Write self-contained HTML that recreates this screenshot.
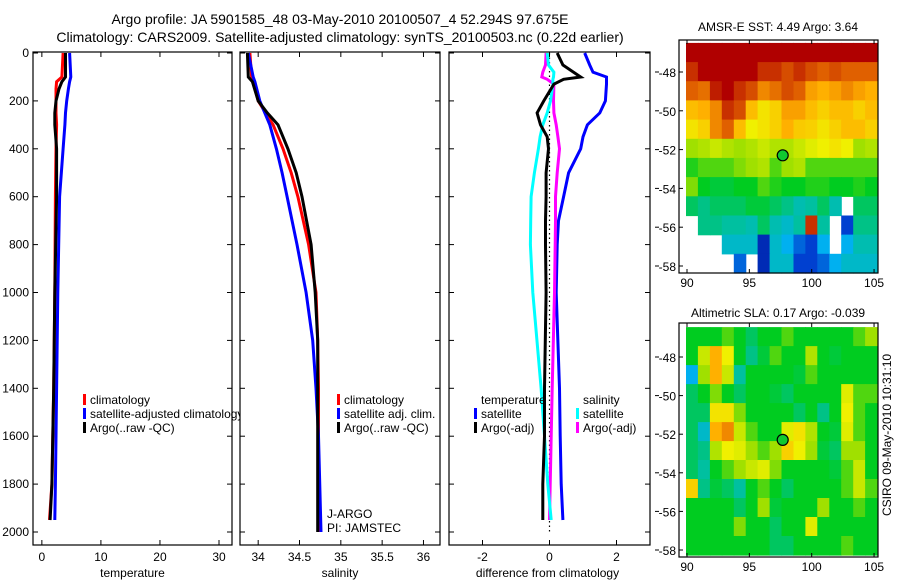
<!DOCTYPE html>
<html><head><meta charset="utf-8"><style>
body{margin:0;background:#fff;}
svg{display:block;font-family:"Liberation Sans",sans-serif;}
</style></head><body>
<svg id="fig" width="900" height="580" viewBox="0 0 900 580">
<rect width="900" height="580" fill="#fff"/>
<text x="340" y="24" font-size="14" text-anchor="middle">Argo profile: JA 5901585_48 03-May-2010 20100507_4 52.294S 97.675E</text>
<text x="340" y="42" font-size="14" text-anchor="middle">Climatology: CARS2009. Satellite-adjusted climatology: synTS_20100503.nc (0.22d earlier)</text>
<text x="778" y="31" font-size="12" text-anchor="middle">AMSR-E SST: 4.49 Argo: 3.64</text>
<text x="778" y="317" font-size="12" text-anchor="middle">Altimetric SLA: 0.17 Argo: -0.039</text>
<text x="0" y="0" font-size="12" text-anchor="middle" transform="translate(891,435) rotate(-90)">CSIRO 09-May-2010 10:31:10</text>
<g id="g"></g>
</svg>
<script>
// ---- profile data ----
const depthT = [0,100,120,150,200,250,300,400,600,1000,1400,1800,1950];
const tempClim = [3.6,3.4,2.5,2.4,2.4,2.4,2.5,2.4,2.3,2.2,2.0,1.7,1.3];
const tempSat = [4.7,4.9,4.7,4.5,4.2,4.0,3.9,3.6,3.0,2.7,2.5,2.3,2.2];
const tempArgo = [4.0,4.0,3.4,2.9,2.4,2.2,2.2,2.5,2.5,2.2,2.0,1.7,1.4];
const depthS = [0,100,120,200,250,300,400,500,600,800,1000,1200,1400,1600,2000];
const salClim = [33.9,33.92,33.94,34.0,34.09,34.18,34.3,34.4,34.48,34.61,34.7,34.72,34.73,34.73,34.73];
const salSat = [33.88,33.94,33.96,34.02,34.08,34.14,34.22,34.29,34.35,34.47,34.58,34.66,34.7,34.73,34.76];
const salArgo = [33.87,33.88,33.93,34.0,34.11,34.24,34.36,34.46,34.53,34.64,34.69,34.72,34.72,34.72,34.72];
const depthD = [0,50,80,100,110,130,200,250,300,350,400,500,600,700,800,1000,1400,1600,1800,1950];
const dTempSat = [1.05,1.2,1.3,1.7,1.7,1.7,1.67,1.5,1.13,1.0,0.93,0.57,0.42,0.27,0.23,0.2,0.3,0.32,0.35,0.4];
const dTempArgo = [0.23,0.4,0.72,0.93,0.42,0.13,-0.17,-0.37,-0.27,-0.07,-0.03,-0.1,-0.1,-0.12,-0.12,-0.1,-0.15,-0.15,-0.2,-0.2];
const dSalSat = [-0.07,-0.03,0.13,0.12,0.1,0.1,0.03,-0.07,-0.2,-0.28,-0.33,-0.45,-0.55,-0.56,-0.57,-0.5,-0.25,-0.15,-0.05,0.05];
const dSalArgo = [-0.1,-0.12,-0.2,-0.23,-0.07,0.13,0.12,0.13,0.2,0.25,0.3,0.23,0.18,0.18,0.17,0.15,0.08,0.05,0.02,0.0];
const depthTicks = [0,200,400,600,800,1000,1200,1400,1600,1800,2000];
const tempTicks = [0,10,20,30];
const salTicks = [34,34.5,35,35.5,36];
const diffTicks = [-2,0,2];
// ---- map data (rows top->bottom, cols west->east), null = no data ----
const sstGrid = [
[1,1,1,1,1,1,1,1,1,1,1,1,1,1,1,1],
[0.95,1,1,1,1,1,0.95,0.95,0.92,0.95,0.92,0.9,0.92,0.9,0.9,0.9],
[0.9,0.88,0.97,1,0.95,0.92,0.85,0.88,0.92,0.9,0.82,0.8,0.82,0.85,0.82,0.8],
[0.78,0.8,0.85,0.95,0.92,0.78,0.72,0.75,0.82,0.82,0.78,0.75,0.78,0.78,0.75,0.78],
[0.72,0.75,0.85,0.9,0.78,0.7,0.72,0.75,0.8,0.76,0.75,0.72,0.75,0.78,0.78,0.75],
[0.6,0.62,0.65,0.62,0.6,0.62,0.65,0.62,0.62,0.65,0.68,0.7,0.72,0.7,0.6,0.62],
[0.52,0.55,0.55,0.55,0.58,0.6,0.62,0.55,0.6,0.62,0.55,0.55,0.55,0.55,0.55,0.55],
[0.58,0.5,0.48,0.48,0.5,0.5,0.55,0.52,0.5,0.5,0.52,0.52,0.5,0.5,0.52,0.5],
[0.45,0.42,0.45,0.45,0.45,0.48,0.48,0.45,0.42,0.38,0.4,0.45,0.38,null,0.45,0.45],
[null,0.42,0.42,0.4,0.4,0.38,0.45,0.38,0.35,0.4,0.95,0.4,null,0.15,0.42,0.42],
[null,null,null,0.35,0.35,0.35,0.1,0.35,0.3,0.2,0.15,0.3,null,0.3,0.38,0.38],
[null,null,null,null,0.2,null,0.1,0.35,0.35,0.15,0.15,0.2,0.3,0.35,0.35,0.35]];
const slaGrid = [
[0.5,0.5,0.5,0.55,0.5,0.45,0.5,0.5,0.55,0.5,0.5,0.5,0.5,0.5,0.55,0.6],
[0.5,0.65,0.8,0.7,0.5,0.42,0.48,0.55,0.5,0.5,0.62,0.5,0.48,0.5,0.5,0.5],
[0.3,0.6,0.8,0.65,0.4,0.5,0.5,0.5,0.5,0.48,0.55,0.5,0.5,0.5,0.5,0.5],
[0.45,0.5,0.58,0.5,0.45,0.5,0.5,0.48,0.45,0.5,0.5,0.5,0.5,0.68,0.55,0.55],
[0.45,0.45,0.72,0.72,0.58,0.5,0.5,0.5,0.5,0.45,0.5,0.42,0.5,0.7,0.55,0.5],
[0.45,0.35,0.8,0.85,0.65,0.55,0.5,0.5,0.68,0.72,0.62,0.5,0.48,0.68,0.55,0.5],
[0.45,0.42,0.62,0.7,0.68,0.6,0.55,0.6,0.75,0.7,0.6,0.48,0.45,0.6,0.6,0.5],
[0.45,0.4,0.5,0.55,0.6,0.65,0.68,0.58,0.5,0.5,0.5,0.5,0.48,0.55,0.65,0.5],
[0.75,0.42,0.48,0.45,0.4,0.5,0.55,0.5,0.45,0.5,0.5,0.5,0.5,0.55,0.65,0.55],
[0.5,0.5,0.5,0.5,0.45,0.5,0.6,0.48,0.5,0.5,0.5,0.6,0.5,0.5,0.55,0.5],
[0.5,0.5,0.5,0.5,0.58,0.5,0.5,0.45,0.5,0.5,0.68,0.5,0.5,0.5,0.5,0.5],
[0.5,0.5,0.5,0.5,0.5,0.5,0.5,0.45,0.45,0.5,0.5,0.5,0.5,0.55,0.5,0.5]];
const lonTicks = [90,95,100,105];
const latTicks = [-48,-50,-52,-54,-56,-58];
const floatLon = 97.675, floatLat = -52.294;

const NS='http://www.w3.org/2000/svg';
const G=document.getElementById('g');
function mk(tag,attrs,parent){const e=document.createElementNS(NS,tag);for(const k in attrs)e.setAttribute(k,attrs[k]);(parent||G).appendChild(e);return e;}
function txt(s,x,y,attrs,parent){const e=mk('text',Object.assign({x:x,y:y,'font-size':12},attrs||{}),parent);e.textContent=s;return e;}

const TOP=52,BOT=545;
const yD=d=>53+d*0.2395;
const panels=[
 {x0:33,x1:232,vmin:-1.5,vmax:32.2,ticks:tempTicks,label:'temperature',ylabels:true,name:'temperature-panel'},
 {x0:240,x1:440,vmin:33.78,vmax:36.2,ticks:salTicks,label:'salinity',name:'salinity-panel'},
 {x0:449,x1:650,vmin:-3.0,vmax:3.0,ticks:diffTicks,label:'difference from climatology',name:'difference-panel'}];
panels.forEach((p,i)=>{
 p.sx=v=>p.x0+(v-p.vmin)/(p.vmax-p.vmin)*(p.x1-p.x0);
 const g=mk('g',{});
 
 
 p.g=g;
 const cp=mk('clipPath',{id:'cp'+i},g);
 mk('rect',{x:p.x0,y:TOP,width:(i==0?208:p.x1-p.x0),height:BOT-TOP},cp);
 mk('rect',{x:p.x0,y:TOP,width:p.x1-p.x0,height:BOT-TOP,fill:'none',stroke:'#000','stroke-width':1.2},g);
 p.ticks.forEach(t=>{const x=p.sx(t);
  mk('line',{x1:x,x2:x,y1:BOT,y2:BOT-5,stroke:'#000'},g);
  mk('line',{x1:x,x2:x,y1:TOP,y2:TOP+5,stroke:'#000'},g);
  const tl=txt(String(t),x,561,{'text-anchor':'middle'},g);
  
  });
 depthTicks.forEach(d=>{const y=yD(d);
  mk('line',{x1:p.x0,x2:p.x0+5,y1:y,y2:y,stroke:'#000'},g);
  mk('line',{x1:p.x1,x2:p.x1-5,y1:y,y2:y,stroke:'#000'},g);
  if(p.ylabels){const yl=txt(String(d),29,y+4,{'text-anchor':'end'},g);
   
   }});
 const at=txt(p.label,(p.x0+p.x1)/2+ (i==2?-2:0),577,{'text-anchor':'middle'},g);
 
 
});
function line(p,depths,vals,color,name,dash){
 const pts=depths.map((d,k)=>p.sx(vals[k]).toFixed(1)+','+yD(d).toFixed(1)).join(' ');
 const e=mk('polyline',{points:pts,fill:'none',stroke:color,'stroke-width':dash?1.2:3,'stroke-dasharray':dash||'none','clip-path':'url(#cp'+panels.indexOf(p)+')'},p.g);
 
 
}
line(panels[0],depthT,tempClim,'#f00','temp-climatology-line');
line(panels[0],depthT,tempSat,'#00f','temp-satellite-line');
line(panels[0],depthT,tempArgo,'#000','temp-argo-line');
line(panels[1],depthS,salClim,'#f00','sal-climatology-line');
line(panels[1],depthS,salSat,'#00f','sal-satellite-line');
line(panels[1],depthS,salArgo,'#000','sal-argo-line');
line(panels[2],[0,2000],[0,0],'#000','zero-line','1.5,3');
line(panels[2],depthD,dTempSat,'#00f','dtemp-satellite-line');
line(panels[2],depthD,dSalArgo,'#f0f','dsal-argo-line');
line(panels[2],depthD,dSalSat,'#0ff','dsal-satellite-line');
line(panels[2],depthD,dTempArgo,'#000','dtemp-argo-line');

function legend(items,parent){items.forEach(it=>{
 if(it.c){const r=mk('rect',{x:it.x-7,y:it.y-10,width:3,height:11,fill:it.c},parent);
  
  }
 const t=txt(it.t,it.x,it.y,{},parent);
 
 });}
legend([{t:'climatology',x:90,y:404,c:'#f00'},{t:'satellite-adjusted climatology',x:90,y:418,c:'#00f'},{t:'Argo(..raw -QC)',x:90,y:432,c:'#000'}],mk('g',{'clip-path':'url(#clipLeg)'}));
const cl=mk('clipPath',{id:'clipLeg'});mk('rect',{x:0,y:0,width:240,height:580},cl);
legend([{t:'climatology',x:344,y:404,c:'#f00'},{t:'satellite adj. clim.',x:344,y:418,c:'#00f'},{t:'Argo(..raw -QC)',x:344,y:432,c:'#000'},{t:'J-ARGO',x:327,y:518},{t:'PI: JAMSTEC',x:327,y:532}]);
legend([{t:'temperature',x:481,y:404},{t:'satellite',x:481,y:418,c:'#00f'},{t:'Argo(-adj)',x:481,y:432,c:'#000'},{t:'salinity',x:583,y:404},{t:'satellite',x:583,y:418,c:'#0ff'},{t:'Argo(-adj)',x:583,y:432,c:'#f0f'}]);

// ---- maps ----
const stops=[[0,[0,0,128]],[0.15,[0,64,208]],[0.3,[0,176,240]],[0.4,[0,192,160]],[0.5,[0,204,32]],[0.6,[160,224,0]],[0.7,[240,240,0]],[0.8,[255,176,0]],[0.9,[224,96,0]],[1,[176,0,0]]];
function cmap(v){for(let i=1;i<stops.length;i++){if(v<=stops[i][0]){const a=stops[i-1],b=stops[i],t=(v-a[0])/(b[0]-a[0]);return 'rgb('+a[1].map((c,k)=>Math.round(c+(b[1][k]-c)*t)).join(',')+')';}}return 'rgb(176,0,0)';}
function drawMap(grid,box,name){
 const g=mk('g',{});
 
 
 const lonX=lon=>687+(lon-90)*12.47;
 const latY=lat=>box.y48+(-48-lat)*box.dy;
 const lon0=89.92,lon1=105.24, lat0=box.lat0, lat1=box.lat1;
 const nr=grid.length,nc=grid[0].length;
 grid.forEach((row,r)=>row.forEach((v,c)=>{
  if(v===null)return;
  const la=lat0+(lat1-lat0)*r/nr, lb=lat0+(lat1-lat0)*(r+1)/nr;
  const xa=lonX(lon0+(lon1-lon0)*c/nc), xb=lonX(lon0+(lon1-lon0)*(c+1)/nc);
  const cell=mk('rect',{x:xa.toFixed(1),y:latY(la).toFixed(1),width:(xb-xa+0.6).toFixed(1),height:(latY(lb)-latY(la)+0.6).toFixed(1),fill:cmap(v)},g);
  
  
 }));
 mk('rect',{x:679,y:box.top,width:199,height:box.bot-box.top,fill:'none',stroke:'#000','stroke-width':1.2},g);
 lonTicks.forEach(l=>{const x=lonX(l);mk('line',{x1:x,x2:x,y1:box.bot,y2:box.bot-4,stroke:'#000'},g);mk('line',{x1:x,x2:x,y1:box.top,y2:box.top+4,stroke:'#000'},g);
  const t=txt(String(l),x,box.bot+14,{'text-anchor':'middle'},g);
  
  });
 latTicks.forEach(l=>{const y=latY(l);mk('line',{x1:679,x2:683,y1:y,y2:y,stroke:'#000'},g);mk('line',{x1:655,x2:659,y1:y,y2:y,stroke:'#000'},g);
  const t=txt(String(l),676,y+5,{'text-anchor':'end'},g);
  
  });
 const dot=mk('circle',{cx:lonX(floatLon),cy:latY(floatLat),r:5.5,fill:'#10c830',stroke:'#000','stroke-width':1.2},g);
 
 
}
drawMap(sstGrid,{top:40,bot:273,y48:72,dy:19.4,lat0:-46.5,lat1:-58.36},'sst-map');
drawMap(slaGrid,{top:323,bot:557,y48:357,dy:19.3,lat0:-46.45,lat1:-58.26},'sla-map');
</script>
</body></html>
